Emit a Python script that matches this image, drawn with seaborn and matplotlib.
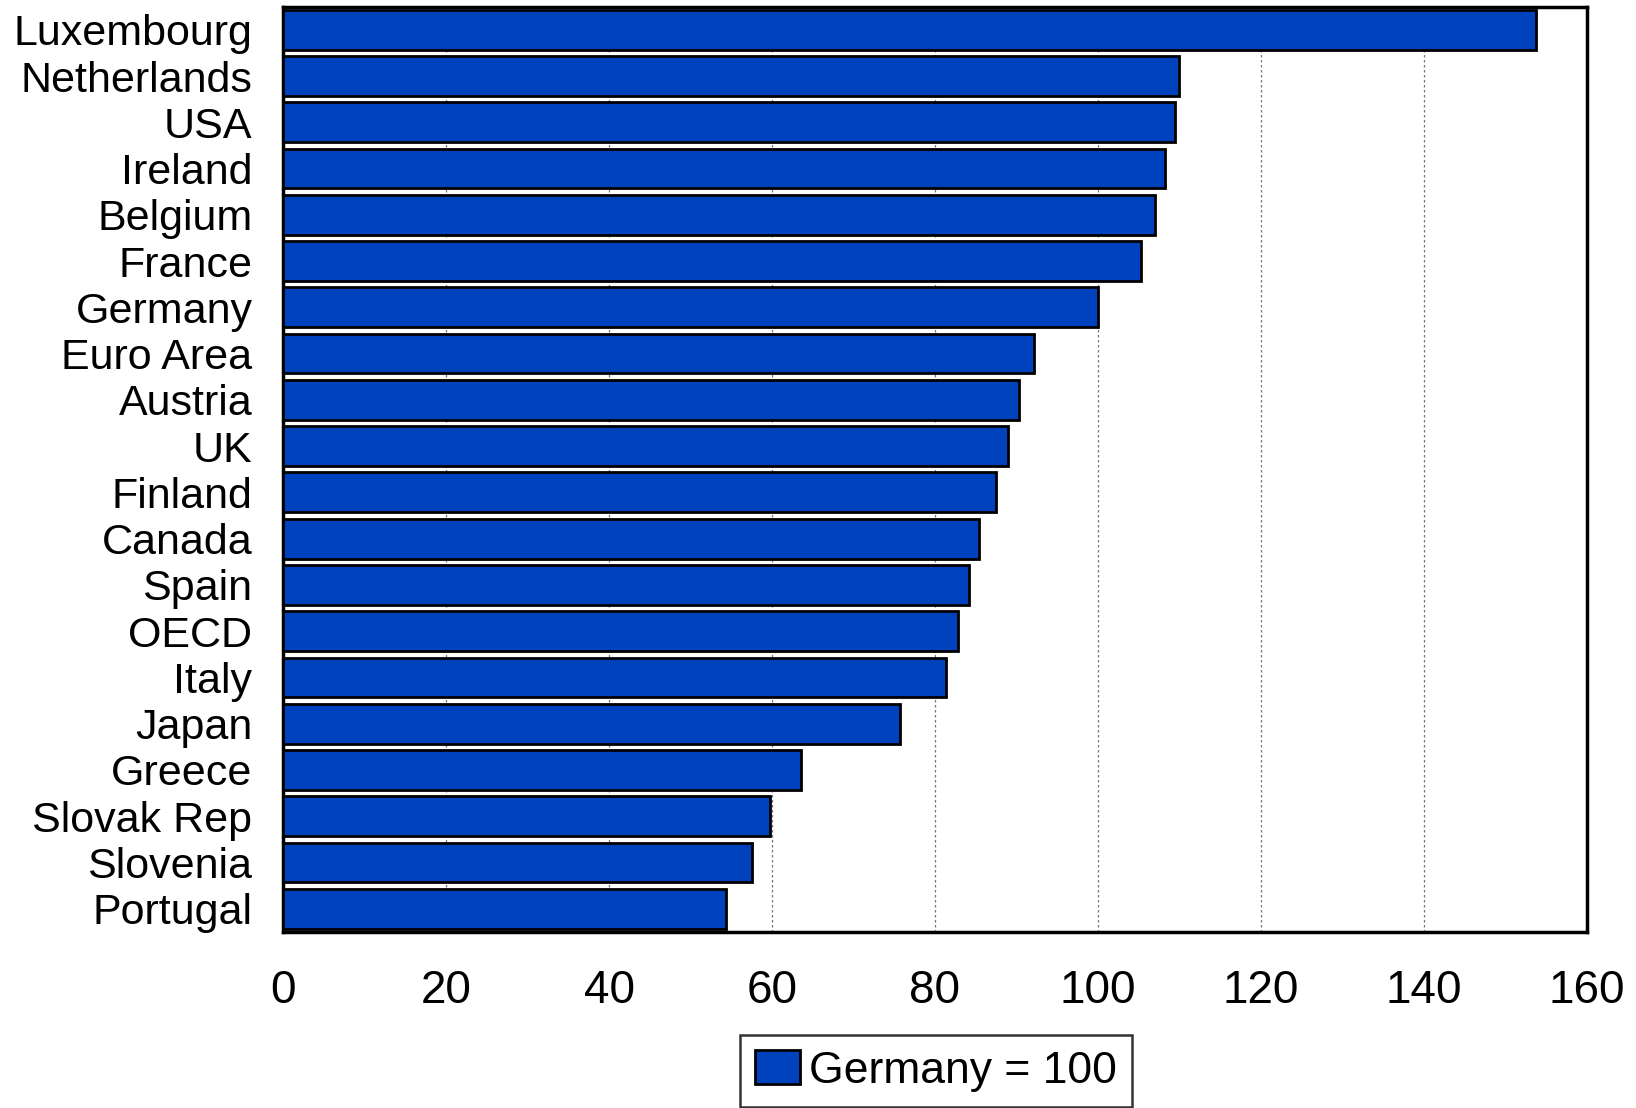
import pandas as pd
import matplotlib
matplotlib.use("Agg")
import matplotlib.pyplot as plt
import seaborn as sns

# Données (Allemagne = 100)
countries = ["Luxembourg", "Netherlands", "USA", "Ireland", "Belgium", "France",
             "Germany", "Euro Area", "Austria", "UK", "Finland", "Canada", "Spain",
             "OECD", "Italy", "Japan", "Greece", "Slovak Rep", "Slovenia", "Portugal"]
values = [153.7, 109.9, 109.5, 108.2, 107.0, 105.3, 100.0, 92.1, 90.3, 88.9,
          87.5, 85.4, 84.2, 82.8, 81.3, 75.7, 63.5, 59.8, 57.5, 54.4]
xticks = [0, 20, 40, 60, 80, 100, 120, 140, 160]
series_label = "Germany = 100"

df = pd.DataFrame({"country": countries, "value": values})

sns.set_style("white")
plt.rcParams["font.family"] = ["Liberation Sans", "DejaVu Sans"]
plt.rcParams["text.color"] = "black"
plt.rcParams["xtick.color"] = "black"
plt.rcParams["ytick.color"] = "black"

fig = plt.figure(figsize=(16.36, 11.08), dpi=100)
ax = fig.add_axes([0.173, 0.159, 0.797, 0.835])

bar_color = "#0041BE"
sns.barplot(data=df, x="value", y="country", orient="h", color=bar_color,
            saturation=1, width=0.86, edgecolor="black", linewidth=2,
            ax=ax, zorder=3)

ax.set_xlim(0, 160)
ax.set_xticks(xticks)
ax.set_xticklabels([str(t) for t in xticks], fontsize=33)
ax.tick_params(axis="y", labelsize=31, length=0, pad=22)
ax.tick_params(axis="x", length=0, pad=27)
ax.set_xlabel("")
ax.set_ylabel("")
ax.set_ylim(len(countries) - 0.5, -0.5)

ax.grid(axis="x", color="#777777", linestyle=(0, (2, 2)), linewidth=0.9, zorder=0)
for s in ax.spines.values():
    s.set_color("black")
    s.set_linewidth(2.5)

handle = plt.Rectangle((0, 0), 1, 1, facecolor=bar_color, edgecolor="black", linewidth=2)
leg = fig.legend([handle], [series_label], loc="upper center", bbox_to_anchor=(0.572, 0.066),
                 fontsize=32, frameon=True, fancybox=False, edgecolor="black",
                 handlelength=1.0, handleheight=0.8, handletextpad=0.2,
                 borderpad=0.35, borderaxespad=0)
leg.get_frame().set_linewidth(1.8)

fig.savefig("out.png", dpi=100)
